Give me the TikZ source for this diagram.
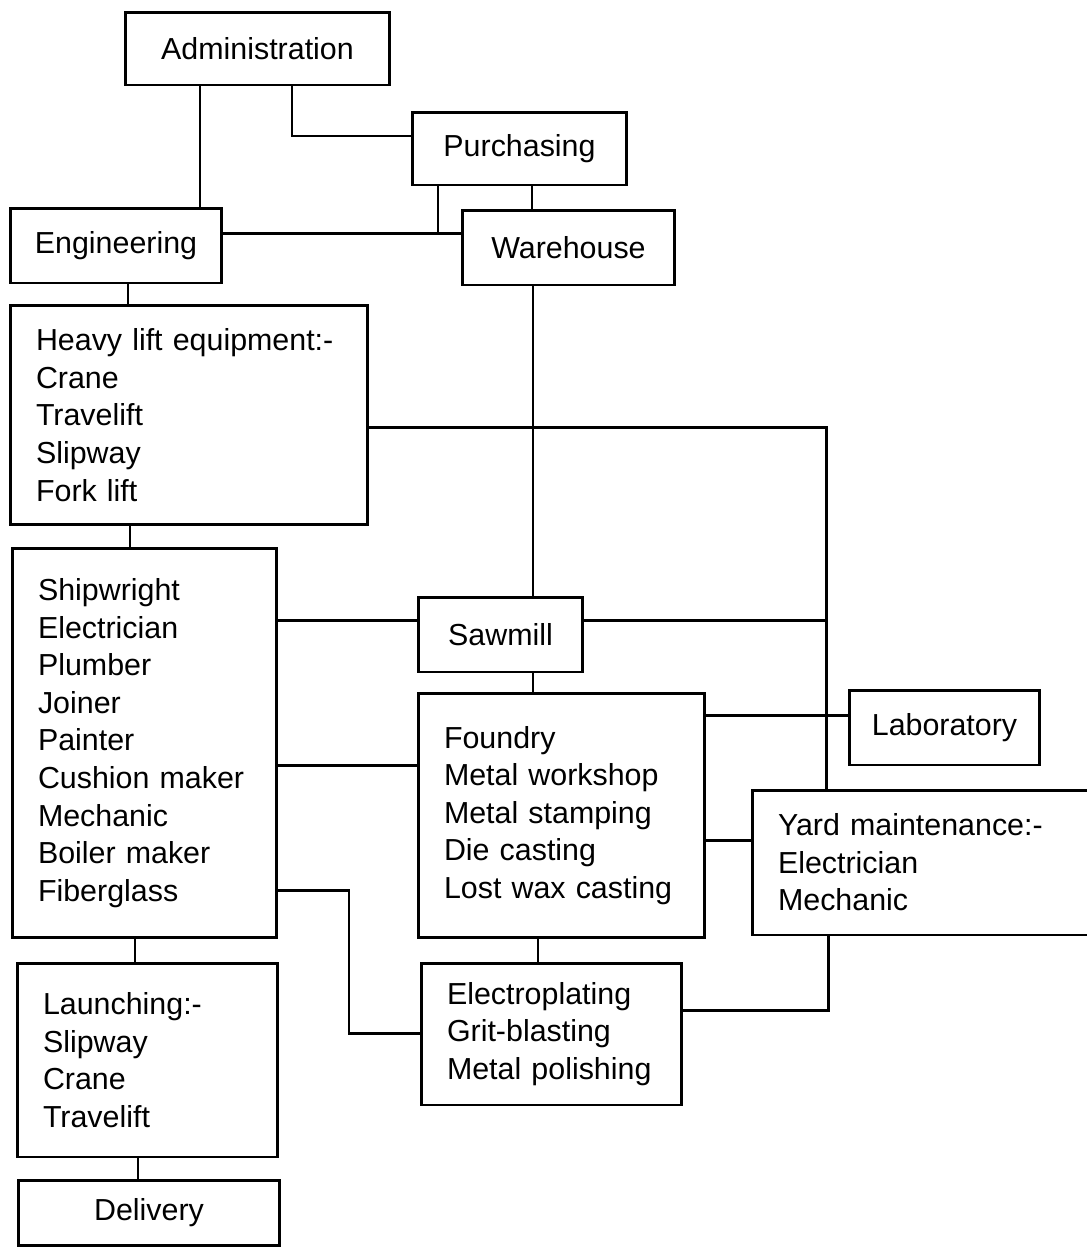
\documentclass[tikz,border=0pt]{standalone}
\usepackage{fontspec}
\setmainfont{Liberation Sans}
\usepackage{tikz}
\usetikzlibrary{positioning, calc}
\tikzset{
  unit/.style={rectangle, draw=black, line width=1.7pt, inner sep=0pt,
    font=\fontsize{17.3}{21.4}\selectfont},
  listunit/.style={unit, align=left, inner xsep=0.52cm, inner ysep=0pt},
  line/.style={line width=1.7pt, color=black}
}
\begin{document}
\begin{tikzpicture}[x=0.02cm, y=-0.02cm]
  \useasboundingbox (0,0) rectangle (1087,1255);

  % Top level
  \node[unit, minimum width=5.30cm, minimum height=1.46cm] (admin) at (257.5,48.5) {Administration};
  \node[unit, minimum width=4.30cm, minimum height=1.46cm] (purch) at (519.5,148.5) {Purchasing};
  \node[unit, minimum width=4.24cm, minimum height=1.50cm] (eng) at (116,245.5) {Engineering};
  \node[unit, minimum width=4.26cm, minimum height=1.50cm] (ware) at (568.5,247.5) {Warehouse};

  % Left column
  \node[listunit, text width=6.12cm, minimum height=4.40cm] (heavy) at (189,415)
    {Heavy lift equipment:-\\Crane\\Travelift\\Slipway\\Fork lift};
  \node[listunit, text width=4.26cm, minimum height=7.80cm] (trades) at (144.5,743)
    {Shipwright\\Electrician\\Plumber\\Joiner\\Painter\\Cushion maker\\Mechanic\\Boiler maker\\Fiberglass};
  \node[listunit, text width=4.18cm, minimum height=3.88cm] (launch) at (147.5,1060)
    {Launching:-\\Slipway\\Crane\\Travelift};
  \node[unit, minimum width=5.24cm, minimum height=1.30cm] (deliv) at (149,1212.5) {Delivery};

  % Workshops
  \node[unit, minimum width=3.30cm, minimum height=1.50cm] (saw) at (500.5,634.5) {Sawmill};
  \node[listunit, text width=4.70cm, minimum height=4.90cm] (foundry) at (561.5,815.5)
    {Foundry\\Metal workshop\\Metal stamping\\Die casting\\Lost wax casting};
  \node[listunit, text width=4.18cm, minimum height=2.84cm] (plating) at (551.5,1034)
    {Electroplating\\Grit-blasting\\Metal polishing};
  \node[unit, minimum width=3.82cm, minimum height=1.50cm] (lab) at (944.5,727.5) {Laboratory};
  \node[listunit, text width=5.92cm, minimum height=2.90cm] (yard) at (926,862.5)
    {Yard maintenance:-\\Electrician\\Mechanic};

  % Junction
  \coordinate (tee) at (438,233);

  % Connections
  \draw[line] (admin.south -| 200,0) -- (eng.north -| 200,0);
  \draw[line] (admin.south -| 292,0) |- (purch.west |- 0,136);
  \draw[line] (eng.east |- 0,233) -- (ware.west |- 0,233);
  \draw[line] (purch.south -| tee) -- (tee);
  \draw[line] (purch.south -| 532,0) -- (ware.north -| 532,0);
  \draw[line] (eng.south -| 128,0) -- (heavy.north -| 128,0);
  \draw[line] (ware.south -| 533,0) -- (saw.north -| 533,0);
  \draw[line] (heavy.east |- 0,427) -| (yard.north -| 826,0);
  \draw[line] (trades.east |- 0,620) -- (saw.west |- 0,620);
  \draw[line] (saw.east |- 0,620) -- (826,620);
  \draw[line] (saw.south -| 533,0) -- (foundry.north -| 533,0);
  \draw[line] (foundry.east |- 0,715) -- (lab.west |- 0,715);
  \draw[line] (foundry.east |- 0,840) -- (yard.west |- 0,840);
  \draw[line] (trades.east |- 0,765) -- (foundry.west |- 0,765);
  \draw[line] (trades.east |- 0,890) -- (349,890) |- (plating.west |- 0,1033);
  \draw[line] (foundry.south -| 538,0) -- (plating.north -| 538,0);
  \draw[line] (plating.east |- 0,1010) -| (yard.south -| 828,0);
  \draw[line] (heavy.south -| 130,0) -- (trades.north -| 130,0);
  \draw[line] (trades.south -| 135,0) -- (launch.north -| 135,0);
  \draw[line] (launch.south -| 138,0) -- (deliv.north -| 138,0);
\end{tikzpicture}
\end{document}
